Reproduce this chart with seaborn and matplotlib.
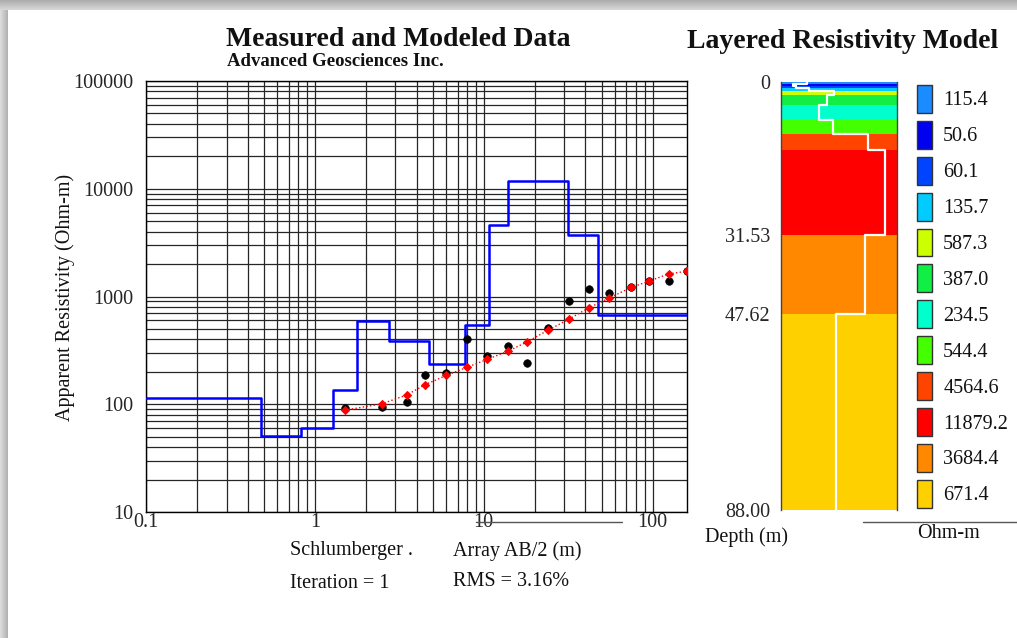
import numpy as np
import pandas as pd
import matplotlib
matplotlib.use('Agg')
import matplotlib.pyplot as plt
from matplotlib.patches import Patch
from matplotlib.lines import Line2D
from matplotlib.ticker import NullFormatter, NullLocator
import seaborn as sns

# Schlumberger sounding, AB/2 in m
ab2 = [1.5, 2.5, 3.5, 4.5, 6, 8, 10.5, 14, 18, 24, 32, 42, 55, 75, 95, 125, 160]
rho_measured = [92, 94, 106, 185, 194, 404, 280, 345, 241, 508, 914, 1166, 1086, 1230, 1400, 1387, 1730]
rho_calculated = [88, 101, 122, 152, 185, 221, 261, 312, 378, 486, 616, 787, 962, 1218, 1387, 1622, 1718]

# layered model (top depth of each layer, m)
layer_top = [0, 0.48, 0.83, 1.28, 1.78, 2.76, 4.77, 7.8, 10.7, 13.9, 31.53, 47.62]
layer_rho = [115.4, 50.6, 60.1, 135.7, 587.3, 387.0, 234.5, 544.4, 4564.6, 11879.2, 3684.4, 671.4]
layer_labels = ['115.4', '50.6', '60.1', '135.7', '587.3', '387.0', '234.5', '544.4',
                '4564.6', '11879.2', '3684.4', '671.4']
layer_colors = ['#1a8cff', '#0000f0', '#0044ff', '#00ccff', '#ccff00', '#11ee44',
                '#00ffcc', '#44ff00', '#ff4400', '#ff0000', '#ff8800', '#ffd000']
model_bottom = 88.0
depth_ticks = [0, 31.53, 47.62, 88.0]
depth_ticklabels = ['0', '31.53', '47.62', '88.00']

sns.set_theme(style='white')
plt.rcParams['font.family'] = ['Liberation Serif', 'DejaVu Serif']
plt.rcParams['font.size'] = 14.5
plt.rcParams['text.color'] = '#111111'

W, H = 1017, 638
fig = plt.figure(figsize=(W / 100, H / 100), dpi=100)

# page shadow of the screenshot
bg = np.ones((H, W, 3))
bg[:10, :, :] = np.linspace(0.68, 0.84, 10)[:, None, None]
bg[10:, :8, :] = np.linspace(0.86, 0.70, 8)[None, :, None]
fig.figimage(bg, 0, 0, origin='upper', zorder=-10)

# ---- measured and modeled data ----
ax = fig.add_axes([146 / W, 1 - 512 / H, 541 / W, 431 / H])
ax.set_xscale('log')
ax.set_yscale('log')
ax.set_xlim(0.1, 160)
ax.set_ylim(10, 100000)
ax.grid(True, which='both', color='#262626', lw=0.9)
for s in ax.spines.values():
    s.set_color('black')
    s.set_linewidth(1)

step_x = [0.1] + layer_top[1:] + [160]
step_y = layer_rho + [layer_rho[-1]]
ax.step(step_x, step_y, where='post', color='#0000ff', lw=1.8, zorder=3)

df = pd.DataFrame({'ab2': ab2, 'measured': rho_measured, 'calculated': rho_calculated})
sns.scatterplot(data=df, x='ab2', y='measured', color='black', s=30, edgecolor='black',
                ax=ax, zorder=4)
sns.lineplot(data=df, x='ab2', y='calculated', color='red', lw=1, linestyle=':',
             marker='D', markersize=3.8, markeredgecolor='red', ax=ax, zorder=5)

ax.set_xticks([0.1, 1, 10, 100])
ax.set_xticklabels(['0.1', '1', '10', '100'])
ax.set_yticks([10, 100, 1000, 10000, 100000])
ax.set_yticklabels(['10', '100', '1000', '10000', '100000'])
ax.xaxis.set_minor_formatter(NullFormatter())
ax.yaxis.set_minor_formatter(NullFormatter())
ax.tick_params(which='both', length=0)
ax.tick_params(axis='x', pad=1, labelsize=14.5)
ax.tick_params(axis='y', pad=9, labelsize=14.5)
ax.set_xlabel('')
ax.set_ylabel('')

fig.text(65 / W, 1 - 297 / H, 'Apparent Resistivity (Ohm-m)', rotation=90,
         ha='center', va='center', fontsize=14.5)
fig.add_artist(Line2D([476 / W, 622 / W], [1 - 522 / H, 1 - 522 / H], color='#555555', lw=1))

# ---- layered model column ----
ax2 = fig.add_axes([781 / W, 1 - 510 / H, 116 / W, 428 / H])
ax2.set_xscale('log')
ax2.set_xlim(25, 25000)
ax2.set_ylim(model_bottom, 0)
bottoms = layer_top[1:] + [model_bottom]
thick = np.diff(layer_top + [model_bottom])
ax2.barh(layer_top, width=25000 - 25, left=25, height=thick, align='edge',
         color=layer_colors, lw=0)
prof_x = np.repeat(layer_rho, 2)
prof_y = np.column_stack([layer_top, bottoms]).ravel()
ax2.plot(prof_x, prof_y, color='white', lw=1.6)
ax2.set_xticks([])
ax2.xaxis.set_minor_locator(NullLocator())
ax2.set_yticks(depth_ticks)
ax2.set_yticklabels(depth_ticklabels)
ax2.tick_params(which='both', length=0)
ax2.tick_params(axis='y', pad=8, labelsize=14.5)
for side in ['top', 'bottom']:
    ax2.spines[side].set_visible(False)
for side in ['left', 'right']:
    ax2.spines[side].set_color('#444444')
    ax2.spines[side].set_linewidth(1)

handles = [Patch(facecolor=c, edgecolor='#333333', lw=1, label=l)
           for c, l in zip(layer_colors, layer_labels)]
fig.legend(handles=handles, loc='upper left', bbox_to_anchor=(917 / W, 1 - 85 / H),
           frameon=False, handlelength=0.75, handleheight=1.75, labelspacing=0.4,
           handletextpad=0.55, borderpad=0, borderaxespad=0, fontsize=14.5)

# ---- titles and notes ----
fig.text(226 / W, 1 - 40 / H, 'Measured and Modeled Data', fontsize=20,
         fontweight='bold', va='center')
fig.text(227 / W, 1 - 61 / H, 'Advanced Geosciences Inc.', fontsize=13.5,
         fontweight='bold', va='center')
fig.text(687 / W, 1 - 41 / H, 'Layered Resistivity Model', fontsize=20,
         fontweight='bold', va='center')

fig.text(290 / W, 1 - 551 / H, 'Schlumberger .', va='center', fontsize=14.5)
fig.text(453 / W, 1 - 551 / H, 'Array AB/2 (m)', va='center', fontsize=14.5)
fig.text(290 / W, 1 - 583 / H, 'Iteration = 1', va='center', fontsize=14.5)
fig.text(453 / W, 1 - 581 / H, 'RMS = 3.16%', va='center', fontsize=14.5)
fig.text(705 / W, 1 - 537 / H, 'Depth (m)', va='center', fontsize=14.5)
fig.text(917 / W, 1 - 533 / H, 'Ohm-m', va='center', fontsize=14.5)
fig.add_artist(Line2D([863 / W, 1.0], [1 - 522 / H, 1 - 522 / H], color='#555555', lw=1))

fig.savefig('out.png', dpi=100)
